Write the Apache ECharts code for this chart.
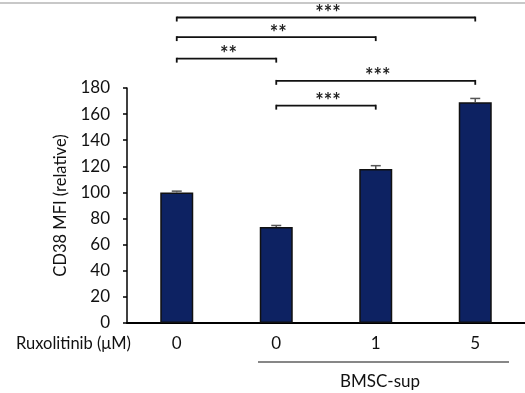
<!DOCTYPE html>
<html>
<head>
<meta charset="utf-8">
<script src="https://cdn.jsdelivr.net/npm/echarts@6/dist/echarts.min.js"></script>
<style>
html,body{margin:0;padding:0;background:#fff;}
#c{width:525px;height:393px;}
</style>
</head>
<body>
<div id="c"></div>
<script>
var categories = ['0', '0', '1', '5'];
var values = [100, 73.5, 118, 169];
var errors = [1, 1.2, 2.5, 3];
var yTicks = [0, 20, 40, 60, 80, 100, 120, 140, 160, 180];
// significance brackets: [from index, to index, level (data units), label]
var bracketFrom = [0, 0, 0, 1, 1];
var bracketTo = [3, 2, 1, 3, 2];
var bracketLevel = [234, 219, 202.5, 185.5, 166.5];
var bracketLabel = ['***', '**', '**', '***', '***'];

var FONT = 'Lato';
var chart = echarts.init(document.getElementById('c'));

var errData = values.map(function (v, i) { return [i, v, errors[i]]; });
var brData = bracketFrom.map(function (f, i) { return [f, bracketTo[i], bracketLevel[i], bracketLabel[i]]; });

chart.setOption({
  animation: false,
  backgroundColor: '#fff',
  textStyle: { fontFamily: FONT },
  grid: { left: 127, top: 88, right: -4, bottom: 70, containLabel: false },
  xAxis: {
    type: 'category',
    data: categories,
    axisLine: { lineStyle: { color: '#000', width: 2 } },
    axisTick: { alignWithLabel: true, length: 5, lineStyle: { color: '#000', width: 1.5 } },
    axisLabel: { color: '#111', fontSize: 17, margin: 12, fontFamily: FONT }
  },
  yAxis: {
    type: 'value',
    min: 0, max: 180, interval: 20,
    name: 'CD38 MFI (relative)',
    nameLocation: 'middle',
    nameGap: 52,
    nameTextStyle: { color: '#111', fontSize: 16.5, fontFamily: FONT },
    splitLine: { show: false },
    axisLine: { show: true, lineStyle: { color: '#000', width: 1.5 } },
    axisTick: { show: true, length: 4, lineStyle: { color: '#000', width: 1.5 } },
    axisLabel: { color: '#111', fontSize: 17, margin: 17, fontFamily: FONT,
      formatter: function (v) { return yTicks.indexOf(v) >= 0 ? String(v) : ''; } }
  },
  series: [
    {
      type: 'bar',
      data: values,
      barWidth: 33,
      itemStyle: { color: '#0d2262', borderColor: '#111', borderWidth: 1.5 }
    },
    {
      type: 'custom',
      data: errData,
      z: 5,
      renderItem: function (params, api) {
        var x = api.value(0), v = api.value(1), e = api.value(2);
        var top = api.coord([x, v + e]);
        var base = api.coord([x, v]);
        var hw = 5;
        var st = { stroke: '#555', lineWidth: 1.5 };
        return { type: 'group', children: [
          { type: 'line', shape: { x1: top[0], y1: top[1], x2: base[0], y2: base[1] }, style: st },
          { type: 'line', shape: { x1: top[0] - hw, y1: top[1], x2: top[0] + hw, y2: top[1] }, style: st }
        ] };
      }
    },
    {
      type: 'custom',
      data: brData,
      clip: false,
      z: 6,
      renderItem: function (params, api) {
        var a = api.coord([api.value(0), api.value(2)]);
        var b = api.coord([api.value(1), api.value(2)]);
        var lbl = brData[params.dataIndex][3];
        var st = { stroke: '#111', lineWidth: 1.8 };
        var t = 4;
        return { type: 'group', children: [
          { type: 'line', shape: { x1: a[0], y1: a[1], x2: b[0], y2: b[1] }, style: st },
          { type: 'line', shape: { x1: a[0], y1: a[1] - 0.9, x2: a[0], y2: a[1] + t }, style: st },
          { type: 'line', shape: { x1: b[0], y1: b[1] - 0.9, x2: b[0], y2: b[1] + t }, style: st },
          { type: 'text', x: (a[0] + b[0]) / 2 + 2, y: a[1] + 6,
            style: { text: lbl, fill: '#222', font: 'bold 20px ' + FONT, textAlign: 'center', textVerticalAlign: 'bottom' } }
        ] };
      }
    }
  ],
  graphic: [
    { type: 'rect', left: 0, top: 2, shape: { width: 525, height: 2 }, style: { fill: '#c8c8c8' } },
    { type: 'text', left: 16, top: 335, style: { text: 'Ruxolitinib (\u03bcM)', fill: '#111', font: '16.5px ' + FONT } },
    { type: 'line', shape: { x1: 258, y1: 362, x2: 509, y2: 362 }, style: { stroke: '#111', lineWidth: 1.2 } },
    { type: 'text', x: 380, y: 382, style: { text: 'BMSC-sup', fill: '#111', font: '17px ' + FONT, textAlign: 'center', textVerticalAlign: 'middle' } }
  ]
});
</script>
</body>
</html>
